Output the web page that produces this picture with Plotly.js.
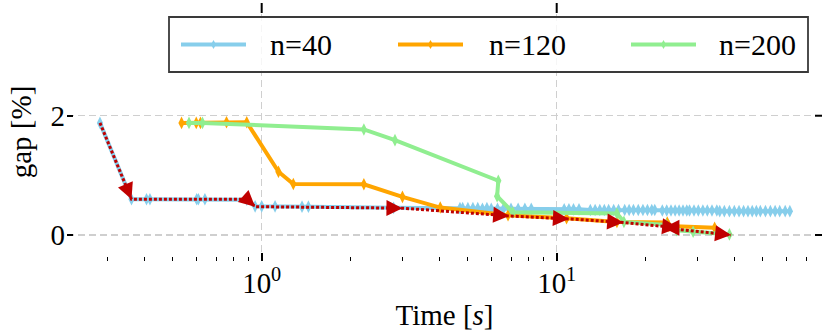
<!DOCTYPE html>
<html>
<head>
<meta charset="utf-8">
<script src="https://cdn.plot.ly/plotly-3.0.1.min.js"></script>
<style>
  html, body { margin: 0; padding: 0; background: #fff; }
  #chart { width: 830px; height: 332px; }
</style>
</head>
<body>
<div id="chart"></div>
<script>
// n=40 run
const n40Time = [0.283, 0.362, 0.407, 0.418, 0.602, 0.61, 0.642, 0.89, 0.95, 1.0, 1.11, 1.37, 1.44, 2.8, 4.7,
  4.8, 5.0, 5.2, 5.4, 5.6, 5.8, 6.0, 6.3, 6.6, 7.0, 7.4, 7.8, 8.2,
  10.6, 11.0, 11.4, 11.9,
  13.0, 13.5, 14.0, 14.5, 15.0, 15.6, 16.2,
  17.0, 17.6, 18.2, 18.9, 19.6, 20.3, 21.0, 21.5,
  22.8, 23.6, 24.4, 25.2, 26.0, 26.8, 27.6,
  28.2, 29.2, 30.2, 31.3, 32.4, 33.6, 34.9,
  35.7, 37.0, 38.5, 40.0, 41.5, 43.0, 44.5, 46.0, 47.5, 49.0, 51.0, 53.0, 55.0, 57.0, 59.5, 61.7];
const n40Gap = [1.88, 0.60, 0.60, 0.60, 0.60, 0.60, 0.60, 0.59, 0.48, 0.48, 0.48, 0.475, 0.475, 0.455, 0.45,
  0.45, 0.45, 0.45, 0.45, 0.44, 0.45, 0.44, 0.44, 0.44, 0.44, 0.44, 0.44, 0.44,
  0.43, 0.43, 0.43, 0.43,
  0.42, 0.42, 0.42, 0.42, 0.42, 0.42, 0.42,
  0.42, 0.42, 0.42, 0.42, 0.42, 0.42, 0.42, 0.42,
  0.41, 0.41, 0.41, 0.41, 0.41, 0.41, 0.41,
  0.41, 0.41, 0.41, 0.41, 0.41, 0.41, 0.41,
  0.40, 0.40, 0.40, 0.40, 0.40, 0.40, 0.40, 0.40, 0.40, 0.40, 0.40, 0.40, 0.40, 0.40, 0.40, 0.40];

// n=120 run
const n120Time = [0.535, 0.60, 0.62, 0.76, 0.89, 1.14, 1.28, 2.22, 3.0, 4.03, 6.84, 10.8, 16.0, 23.7, 24.0, 34.3];
const n120Gap = [1.88, 1.88, 1.88, 1.89, 1.89, 1.06, 0.855, 0.85, 0.64, 0.46, 0.33, 0.28, 0.22, 0.21, 0.15, 0.12];

// n=200 run
const n200Time = [0.567, 0.63, 2.22, 2.83, 6.34, 6.28, 7.1, 16.0, 16.9, 23.5, 25.5, 29.0, 35.0, 38.5];
const n200Gap = [1.88, 1.88, 1.77, 1.59, 0.91, 0.65, 0.38, 0.36, 0.22, 0.17, 0.08, 0.055, 0.03, 0.01];

// best path (red dotted) and the vertices that carry an arrow head
const bestTime = [0.283, 0.362, 0.89, 0.95, 3.0, 6.9, 11.0, 16.8, 25.8, 23.0, 39.0];
const bestGap = [1.88, 0.60, 0.60, 0.475, 0.45, 0.32, 0.27, 0.21, 0.12, 0.12, 0.0];
const arrowAt = [1, 3, 4, 5, 6, 7, 8, 9, 10];

const seriesNames = ["n=40", "n=120", "n=200"];
const seriesColors = ["#87ceeb", "#ffa500", "#90ee90"];
const majorTicks = [1, 10];
const majorTickText = ["10<sup>0</sup>", "10<sup>1</sup>"];
const minorTicks = [0.3, 0.4, 0.5, 0.6, 0.7, 0.8, 0.9, 2, 3, 4, 5, 6, 7, 8, 9, 20, 30, 40, 50, 60, 70];
const yTicks = [0, 2];

const W = 830, H = 332;
const M = { l: 67, r: 8, t: 3, b: 71 };
const plotW = W - M.l - M.r;
const plotH = H - M.t - M.b;
const xRange = [Math.log10(0.2188), Math.log10(79.3)];
const yRange = [-0.436, 3.89];
const FONT = "'Liberation Serif', 'Times New Roman', serif";
const RED = "#c00000";

function runTrace(x, y, i) {
  return {
    type: "scatter",
    mode: "lines+markers",
    name: seriesNames[i],
    x: x,
    y: y,
    line: { color: seriesColors[i], width: 4 },
    marker: { symbol: "diamond-tall", size: 9, color: seriesColors[i] },
    showlegend: false
  };
}

const traces = [
  runTrace(n40Time, n40Gap, 0),
  runTrace(n120Time, n120Gap, 1),
  runTrace(n200Time, n200Gap, 2),
  {
    type: "scatter",
    mode: "lines",
    x: bestTime,
    y: bestGap,
    line: { color: RED, width: 3, dash: "3px,2px" },
    showlegend: false
  }
];

// arrow heads along the best path, direction taken from previous vertex
const pxPerDec = plotW / (xRange[1] - xRange[0]);
const pxPerUnit = plotH / (yRange[1] - yRange[0]);
const annotations = arrowAt.map((i) => {
  const dx = (Math.log10(bestTime[i]) - Math.log10(bestTime[i - 1])) * pxPerDec;
  const dy = -(bestGap[i] - bestGap[i - 1]) * pxPerUnit;
  const len = Math.hypot(dx, dy) || 1;
  const L = 10;
  return {
    x: Math.log10(bestTime[i]),
    y: bestGap[i],
    xref: "x", yref: "y",
    ax: -dx / len * L,
    ay: -dy / len * L,
    text: "",
    showarrow: true,
    arrowhead: 2,
    arrowsize: 1.6,
    arrowwidth: 2,
    arrowcolor: RED,
    standoff: 0
  };
});

const px = (x) => (x - M.l) / plotW;
const py = (y) => (H - M.b - y) / plotH;
const shapes = [];

// top and right spine ticks (matplotlib style, no spines drawn)
majorTicks.forEach((v) => {
  const xp = (Math.log10(v) - xRange[0]) / (xRange[1] - xRange[0]);
  shapes.push({
    type: "line", xref: "paper", yref: "paper", layer: "above",
    x0: xp, x1: xp, y0: 1, y1: 1 - 10 / plotH,
    line: { color: "#000", width: 2 }
  });
});
yTicks.forEach((v) => {
  shapes.push({
    type: "line", xref: "paper", yref: "y", layer: "above",
    x0: 1, x1: 1 - 7 / plotW, y0: v, y1: v,
    line: { color: "#000", width: 2 }
  });
});

// hand-drawn legend box
shapes.push({
  type: "rect", xref: "paper", yref: "paper", layer: "above",
  x0: px(169), x1: px(808), y0: py(72), y1: py(17),
  line: { color: "#3a3a3a", width: 1.8 },
  fillcolor: "rgba(255,255,255,0.8)"
});
const legendX = [181, 398, 631];
const legendTextX = [268, 487, 717];
const legendY = 44.5;
seriesNames.forEach((name, i) => {
  shapes.push({
    type: "line", xref: "paper", yref: "paper", layer: "above",
    x0: px(legendX[i]), x1: px(legendX[i] + 65), y0: py(legendY), y1: py(legendY),
    line: { color: seriesColors[i], width: 4 }
  });
  const cx = legendX[i] + 32.5;
  shapes.push({
    type: "path", xref: "paper", yref: "paper", layer: "above",
    path: `M ${px(cx)} ${py(legendY - 4.5)} L ${px(cx + 2.5)} ${py(legendY)} L ${px(cx)} ${py(legendY + 4.5)} L ${px(cx - 2.5)} ${py(legendY)} Z`,
    fillcolor: seriesColors[i],
    line: { width: 0 }
  });
  annotations.push({
    xref: "paper", yref: "paper",
    x: px(legendTextX[i]), y: py(legendY),
    xanchor: "left", yanchor: "middle",
    text: name, showarrow: false,
    font: { family: FONT, size: 30, color: "#000" }
  });
});

const layout = {
  width: W,
  height: H,
  margin: M,
  paper_bgcolor: "#ffffff",
  plot_bgcolor: "#ffffff",
  font: { family: FONT, size: 29, color: "#000" },
  showlegend: false,
  xaxis: {
    type: "log",
    range: xRange,
    tickmode: "array",
    tickvals: majorTicks,
    ticktext: majorTickText,
    ticks: "inside",
    ticklen: 8,
    tickwidth: 2,
    tickcolor: "#000",
    ticklabelstandoff: 2,
    showline: false,
    zeroline: false,
    showgrid: true,
    gridcolor: "#cfcfcf",
    gridwidth: 1.5,
    griddash: "7px,4px",
    minor: {
      tickvals: minorTicks,
      ticks: "inside",
      ticklen: 4,
      tickwidth: 1,
      tickcolor: "#000",
      showgrid: false
    },
    title: { text: "Time [<i>s</i>]", font: { family: FONT, size: 29 }, standoff: 6 }
  },
  yaxis: {
    range: yRange,
    tickmode: "array",
    tickvals: yTicks,
    ticks: "inside",
    ticklen: 6,
    tickwidth: 2,
    tickcolor: "#000",
    ticklabelstandoff: 1,
    showline: false,
    zeroline: false,
    showgrid: true,
    gridcolor: "#cfcfcf",
    gridwidth: 1.5,
    griddash: "7px,4px",
    title: { text: "gap [%]", font: { family: FONT, size: 29 }, standoff: 10 }
  },
  shapes: shapes,
  annotations: annotations
};

Plotly.newPlot("chart", traces, layout, { staticPlot: true });
</script>
</body>
</html>
